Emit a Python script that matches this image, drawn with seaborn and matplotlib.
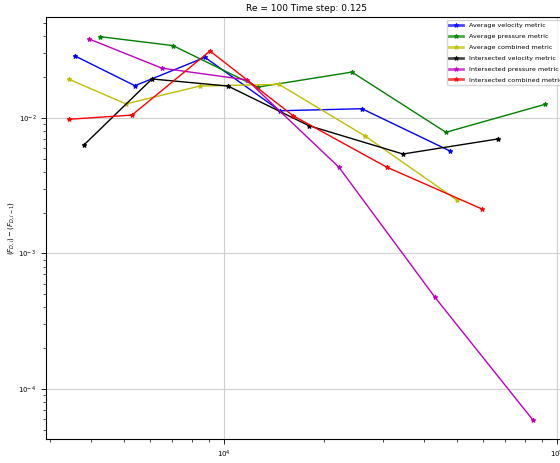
import matplotlib
matplotlib.use("Agg")
import matplotlib.pyplot as plt
import seaborn as sns
import pandas as pd

# ── Data ────────────────────────────────────────────────────────────────────
avg_vel_nodes = [3569, 5403, 8768, 14733, 25966, 47715]
avg_vel_err = [0.0287, 0.0173, 0.0280, 0.0113, 0.0117, 0.00571]

avg_pres_nodes = [4241, 7027, 12650, 24233, 46416, 92045]
avg_pres_err = [0.0398, 0.0342, 0.0169, 0.0218, 0.00784, 0.0126]

avg_comb_nodes = [3424, 5078, 8470, 14632, 26510, 50080]
avg_comb_err = [0.0193, 0.0127, 0.0172, 0.0177, 0.00737, 0.00248]

int_vel_nodes = [3798, 6079, 10280, 17999, 34475, 66499]
int_vel_err = [0.00632, 0.0194, 0.0172, 0.00877, 0.00542, 0.0070]

int_pres_nodes = [3932, 6513, 11724, 22145, 43020, 84720]
int_pres_err = [0.0383, 0.0233, 0.0191, 0.00433, 0.000475, 0.0000590]

int_comb_nodes = [3424, 5292, 9078, 16118, 30859, 59539]
int_comb_err = [0.00978, 0.0105, 0.0312, 0.0104, 0.00433, 0.00213]

series = [
    ("Average velocity metric", avg_vel_nodes, avg_vel_err, "b"),
    ("Average pressure metric", avg_pres_nodes, avg_pres_err, "g"),
    ("Average combined metric", avg_comb_nodes, avg_comb_err, "y"),
    ("Intersected velocity metric", int_vel_nodes, int_vel_err, "k"),
    ("Intersected pressure metric", int_pres_nodes, int_pres_err, "m"),
    ("Intersected combined metric", int_comb_nodes, int_comb_err, "r"),
]

# ── Plot ────────────────────────────────────────────────────────────────────
fig = plt.figure(figsize=(5.6, 4.63), dpi=100)
ax = fig.add_axes([0.0821, 0.0529, 0.932, 0.9104])

for name, nodes, err, col in series:
    df = pd.DataFrame({"nodes": nodes, "err": err})
    sns.lineplot(data=df, x="nodes", y="err", ax=ax, color=col, label=name,
                 marker="*", markersize=3.5, markeredgecolor=col,
                 linewidth=1.0, sort=False)

ax.set_xscale("log")
ax.set_yscale("log")
ax.set_xlim(2921, 107900)
ax.set_ylim(4.31e-5, 0.0556)
ax.grid(True, which="major", color="#d0d0d0", linewidth=0.8)
ax.set_axisbelow(True)

ax.set_title("Re = 100 Time step: 0.125", fontsize=6.5, pad=4)
ax.set_xlabel("Number of nodes", fontsize=5, labelpad=2.5)
ax.set_ylabel(r"$(F_{D,i}) - (F_{D,i-1})$", fontsize=5, labelpad=2)
ax.tick_params(axis="both", which="major", labelsize=5, length=3.5, width=0.6)
ax.tick_params(axis="both", which="minor", length=2, width=0.5)
for sp in ax.spines.values():
    sp.set_linewidth(0.8)

leg = ax.legend(loc="upper right", fontsize=4.6, frameon=True, handlelength=2.2,
                labelspacing=0.85, borderaxespad=0.5)
for h in leg.get_lines():
    h.set_linewidth(2.0)
    h.set_alpha(0.7)

fig.savefig("out.png", dpi=100)
